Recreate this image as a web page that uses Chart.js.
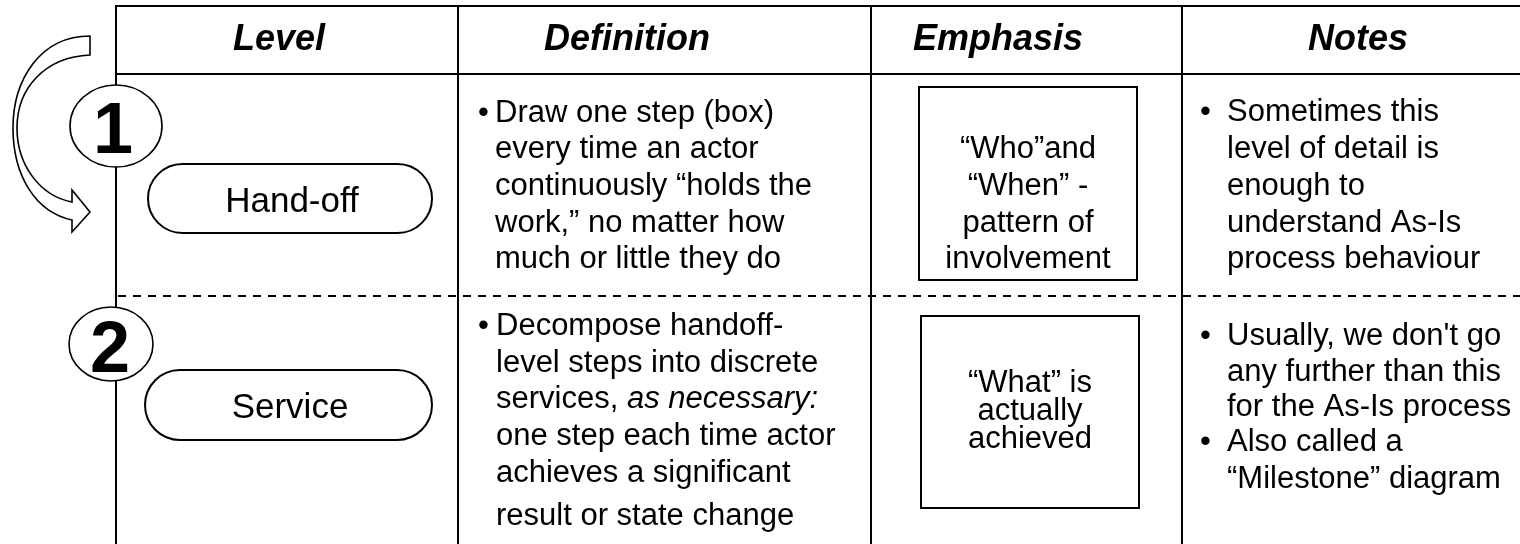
<!DOCTYPE html>
<html>
<head>
<meta charset="utf-8">
<script src="https://cdn.jsdelivr.net/npm/chart.js@4.4.1/dist/chart.umd.min.js"></script>
<style>
html,body{margin:0;padding:0;background:#fff;}
#wrap{width:1520px;height:544px;}
</style>
</head>
<body>
<div id="wrap"><canvas id="c" width="1520" height="544"></canvas></div>
<script>
// ---------- data ----------
const headers = ['Level', 'Definition', 'Emphasis', 'Notes'];
const levelNumbers = ['1', '2'];
const levelNames = ['Hand-off', 'Service'];
const definitionLines = [
  ['Draw one step (box)', 'every time an actor', 'continuously \u201Cholds the', 'work,\u201D no matter how', 'much or little they do'],
  ['Decompose handoff-', 'level steps into discrete', 'services, *as necessary:*', 'one step each time actor', 'achieves a significant', 'result or state change']
];
const emphasisLines = [
  ['\u201CWho\u201Dand', '\u201CWhen\u201D -', 'pattern of', 'involvement'],
  ['\u201CWhat\u201D is', 'actually', 'achieved']
];
const notesItems = [
  [['Sometimes this', 'level of detail is', 'enough to', 'understand As-Is', 'process behaviour']],
  [['Usually, we don\'t go', 'any further than this', 'for the As-Is process'], ['Also called a', '\u201CMilestone\u201D diagram']]
];

// ---------- layout (positions in page units) ----------
const L = {
  W: 1520, H: 544,
  tableLeft: 116, tableTop: 6, headerBottom: 74, dashY: 296,
  colLines: [458, 871, 1182],
  headerX: [279, 627, 998, 1358], headerBase: 50,
  circles: [{cx: 116, cy: 126, rx: 46, ry: 41, tx: 113, base: 153}, {cx: 111, cy: 344, rx: 42, ry: 37, tx: 110, base: 372}],
  pills: [{x0: 148, x1: 432, y0: 164, y1: 233, tx: 292, base: 212}, {x0: 145, x1: 432, y0: 370, y1: 440, tx: 290, base: 418}],
  defBullet: 478, defText: [495, 496],
  defBase: [[122, 158, 195, 232, 268], [335, 372, 408, 445, 482, 525]],
  boxes: [{x0: 919, x1: 1137, y0: 87, y1: 280}, {x0: 921, x1: 1139, y0: 316, y1: 508}],
  empX: [1028, 1030],
  empBase: [[158, 195, 232, 268], [392, 420, 448]],
  noteBullet: 1200, noteText: 1227,
  noteBase: [[121, 158, 195, 232, 268], [345, 381, 416, 451, 488]]
};

const FONT = '"Liberation Sans", Arial, Helvetica, sans-serif';

const tablePlugin = {
  id: 'tablePlugin',
  afterDraw(chart) {
    const ctx = chart.ctx;
    const xs = chart.scales.x, ys = chart.scales.y;
    const X = v => xs.getPixelForValue(v);
    const Y = v => ys.getPixelForValue(v);
    ctx.save();
    ctx.strokeStyle = '#000';
    ctx.fillStyle = '#000';
    ctx.lineCap = 'butt';

    // table grid
    ctx.lineWidth = 2;
    ctx.beginPath();
    ctx.moveTo(X(L.tableLeft), Y(L.tableTop)); ctx.lineTo(X(L.W), Y(L.tableTop));
    ctx.moveTo(X(L.tableLeft), Y(L.headerBottom)); ctx.lineTo(X(L.W), Y(L.headerBottom));
    ctx.moveTo(X(L.tableLeft), Y(L.tableTop - 1)); ctx.lineTo(X(L.tableLeft), Y(L.H));
    L.colLines.forEach(c => { ctx.moveTo(X(c), Y(L.tableTop - 1)); ctx.lineTo(X(c), Y(L.H)); });
    ctx.stroke();

    // dashed separator
    ctx.setLineDash([8, 7]);
    ctx.beginPath();
    ctx.moveTo(X(L.tableLeft + 2), Y(L.dashY)); ctx.lineTo(X(L.W), Y(L.dashY));
    ctx.stroke();
    ctx.setLineDash([]);

    // headers
    ctx.textBaseline = 'alphabetic';
    ctx.textAlign = 'center';
    ctx.font = 'italic bold 36px ' + FONT;
    headers.forEach((h, i) => ctx.fillText(h, X(L.headerX[i]), Y(L.headerBase)));

    // curved arrow
    ctx.lineWidth = 1.6;
    ctx.beginPath();
    ctx.moveTo(X(90), Y(36));
    ctx.bezierCurveTo(X(40), Y(36), X(13), Y(80), X(13), Y(128));
    ctx.bezierCurveTo(X(13), Y(175), X(35), Y(212), X(72), Y(220));
    ctx.lineTo(X(72), Y(232));
    ctx.lineTo(X(90), Y(212));
    ctx.lineTo(X(72), Y(190));
    ctx.lineTo(X(72), Y(202));
    ctx.bezierCurveTo(X(40), Y(196), X(17), Y(165), X(17), Y(128));
    ctx.bezierCurveTo(X(17), Y(88), X(45), Y(57), X(90), Y(55));
    ctx.closePath();
    ctx.fillStyle = '#fff';
    ctx.fill();
    ctx.stroke();
    ctx.fillStyle = '#000';

    // level circles
    L.circles.forEach((c, i) => {
      ctx.beginPath();
      ctx.ellipse(X(c.cx), Y(c.cy), Math.abs(X(c.cx + c.rx) - X(c.cx)), Math.abs(Y(c.cy + c.ry) - Y(c.cy)), 0, 0, Math.PI * 2);
      ctx.fillStyle = '#fff'; ctx.fill();
      ctx.lineWidth = 1.6; ctx.stroke();
      ctx.fillStyle = '#000';
      ctx.font = 'bold 72px ' + FONT;
      ctx.textAlign = 'center';
      ctx.fillText(levelNumbers[i], X(c.tx), Y(c.base));
    });

    // level pills
    L.pills.forEach((p, i) => {
      const x0 = X(p.x0), x1 = X(p.x1), y0 = Y(p.y0), y1 = Y(p.y1);
      const r = (y1 - y0) / 2;
      ctx.beginPath();
      ctx.moveTo(x0 + r, y0);
      ctx.lineTo(x1 - r, y0);
      ctx.arc(x1 - r, y0 + r, r, -Math.PI / 2, Math.PI / 2);
      ctx.lineTo(x0 + r, y1);
      ctx.arc(x0 + r, y0 + r, r, Math.PI / 2, Math.PI * 1.5);
      ctx.closePath();
      ctx.lineWidth = 2; ctx.stroke();
      ctx.font = '35px ' + FONT;
      ctx.textAlign = 'center';
      ctx.fillText(levelNames[i], X(p.tx), Y(p.base));
    });

    // definitions
    definitionLines.forEach((lines, r) => {
      ctx.textAlign = 'left';
      ctx.font = '31px ' + FONT;
      ctx.fillText('\u2022', X(L.defBullet), Y(L.defBase[r][0]));
      lines.forEach((line, k) => {
        let x = X(L.defText[r]);
        const parts = line.split('*');
        parts.forEach((part, j) => {
          ctx.font = (j % 2 === 1 ? 'italic ' : '') + '31px ' + FONT;
          ctx.fillText(part, x, Y(L.defBase[r][k]));
          x += ctx.measureText(part).width;
        });
      });
    });

    // emphasis boxes
    L.boxes.forEach((b, r) => {
      ctx.lineWidth = 2;
      ctx.strokeRect(X(b.x0), Y(b.y0), X(b.x1) - X(b.x0), Y(b.y1) - Y(b.y0));
      ctx.font = '31px ' + FONT;
      ctx.textAlign = 'center';
      emphasisLines[r].forEach((line, k) => ctx.fillText(line, X(L.empX[r]), Y(L.empBase[r][k])));
    });

    // notes
    notesItems.forEach((items, r) => {
      let k = 0;
      ctx.font = '31px ' + FONT;
      ctx.textAlign = 'left';
      items.forEach(item => {
        ctx.fillText('\u2022', X(L.noteBullet), Y(L.noteBase[r][k]));
        item.forEach(line => {
          ctx.fillText(line, X(L.noteText), Y(L.noteBase[r][k]));
          k++;
        });
      });
    });

    ctx.restore();
  }
};

new Chart(document.getElementById('c'), {
  type: 'scatter',
  data: { datasets: [{ data: [], showLine: false }] },
  options: {
    responsive: false,
    animation: false,
    events: [],
    layout: { padding: 0 },
    plugins: { legend: { display: false }, tooltip: { enabled: false } },
    scales: {
      x: { type: 'linear', min: 0, max: L.W, display: false },
      y: { type: 'linear', min: 0, max: L.H, reverse: true, display: false }
    }
  },
  plugins: [tablePlugin]
});
</script>
</body>
</html>
